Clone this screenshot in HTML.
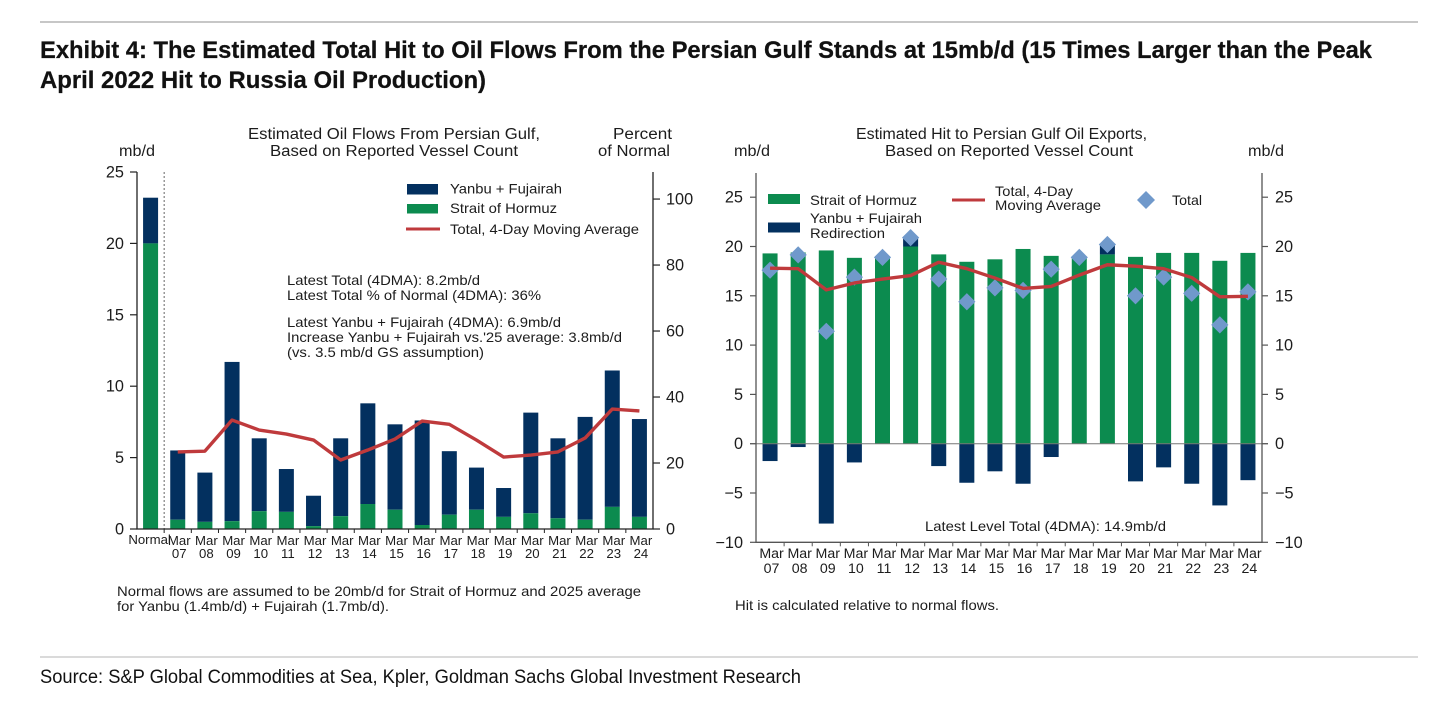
<!DOCTYPE html>
<html lang="en">
<head>
<meta charset="utf-8">
<title>Exhibit 4: Estimated Total Hit to Oil Flows From the Persian Gulf</title>
<style>
html,body{margin:0;padding:0;background:#fff;width:1456px;height:701px;overflow:hidden}
svg{display:block}
text{font-family:"Liberation Sans",Arial,sans-serif;fill:#1c1c1c}
.head{font-weight:700;fill:#111;font-size:24px;stroke:#111;stroke-width:0.25px}
.src{fill:#111;font-size:19px}
.t14{font-size:15.4px}
.t13{font-size:14px}
.tick{font-size:16.3px}
.xl{font-size:13.2px;text-anchor:middle}
.xr{font-size:14.2px;text-anchor:middle}
#charts{filter:blur(0.35px)}
</style>
</head>
<body>
<svg id="page" width="1456" height="701" viewBox="0 0 1456 701" xmlns="http://www.w3.org/2000/svg">
  <rect width="1456" height="701" fill="#fff"/>
  <rect x="40" y="21.5" width="1378" height="1" fill="#8f8f8f"/>
  <text class="head" x="40" y="58" textLength="1332" lengthAdjust="spacingAndGlyphs">Exhibit 4: The Estimated Total Hit to Oil Flows From the Persian Gulf Stands at 15mb/d (15 Times Larger than the Peak</text>
  <text class="head" x="40" y="88" textLength="446" lengthAdjust="spacingAndGlyphs">April 2022 Hit to Russia Oil Production)</text>

  <g id="charts">
    <g id="left-chart">
      <text class="t14" x="248" y="139" textLength="292" lengthAdjust="spacingAndGlyphs">Estimated Oil Flows From Persian Gulf,</text>
      <text class="t14" x="270" y="156" textLength="248" lengthAdjust="spacingAndGlyphs">Based on Reported Vessel Count</text>
      <text class="t14" x="119" y="156" textLength="36" lengthAdjust="spacingAndGlyphs">mb/d</text>
      <text class="t14" x="613" y="139" textLength="59" lengthAdjust="spacingAndGlyphs">Percent</text>
      <text class="t14" x="598" y="156" textLength="72" lengthAdjust="spacingAndGlyphs">of Normal</text>
    </g>
    <g id="right-chart">
      <text class="t14" x="856" y="139" textLength="291" lengthAdjust="spacingAndGlyphs">Estimated Hit to Persian Gulf Oil Exports,</text>
      <text class="t14" x="885" y="156" textLength="248" lengthAdjust="spacingAndGlyphs">Based on Reported Vessel Count</text>
      <text class="t14" x="734" y="156" textLength="36" lengthAdjust="spacingAndGlyphs">mb/d</text>
      <text class="t14" x="1248" y="156" textLength="36" lengthAdjust="spacingAndGlyphs">mb/d</text>
    </g>
    <g id="overlay">
      <rect x="407" y="184" width="31" height="10.5" fill="#03305F"/>
      <rect x="407" y="204" width="31" height="9.5" fill="#0C8B4F"/>
      <line x1="406" y1="229" x2="440" y2="229" stroke="#BF3A3C" stroke-width="3"/>
      <text class="t13" x="450" y="193.5" textLength="112" lengthAdjust="spacingAndGlyphs">Yanbu + Fujairah</text>
      <text class="t13" x="450" y="213" textLength="107" lengthAdjust="spacingAndGlyphs">Strait of Hormuz</text>
      <text class="t13" x="450" y="234" textLength="189" lengthAdjust="spacingAndGlyphs">Total, 4-Day Moving Average</text>

      <text class="t13" x="287" y="285" textLength="193" lengthAdjust="spacingAndGlyphs">Latest Total (4DMA): 8.2mb/d</text>
      <text class="t13" x="287" y="300" textLength="254" lengthAdjust="spacingAndGlyphs">Latest Total % of Normal (4DMA): 36%</text>
      <text class="t13" x="287" y="327" textLength="274" lengthAdjust="spacingAndGlyphs">Latest Yanbu + Fujairah (4DMA): 6.9mb/d</text>
      <text class="t13" x="287" y="342" textLength="335" lengthAdjust="spacingAndGlyphs">Increase Yanbu + Fujairah vs.'25 average: 3.8mb/d</text>
      <text class="t13" x="287" y="357" textLength="197" lengthAdjust="spacingAndGlyphs">(vs. 3.5 mb/d GS assumption)</text>
      <text class="t13" x="117" y="596" textLength="524" lengthAdjust="spacingAndGlyphs">Normal flows are assumed to be 20mb/d for Strait of Hormuz and 2025 average</text>
      <text class="t13" x="117" y="611" textLength="272" lengthAdjust="spacingAndGlyphs">for Yanbu (1.4mb/d) + Fujairah (1.7mb/d).</text>

      <rect x="768" y="194" width="32" height="10" fill="#0C8B4F"/>
      <rect x="768" y="222.5" width="32" height="10" fill="#03305F"/>
      <line x1="952" y1="200" x2="985" y2="200" stroke="#BF3A3C" stroke-width="3"/>
      <polygon points="1146,191 1155,200 1146,209 1137,200" fill="#7099CB"/>
      <text class="t13" x="810" y="205" textLength="107" lengthAdjust="spacingAndGlyphs">Strait of Hormuz</text>
      <text class="t13" x="810" y="223" textLength="112" lengthAdjust="spacingAndGlyphs">Yanbu + Fujairah</text>
      <text class="t13" x="810" y="238" textLength="75" lengthAdjust="spacingAndGlyphs">Redirection</text>
      <text class="t13" x="995" y="196" textLength="78" lengthAdjust="spacingAndGlyphs">Total, 4-Day</text>
      <text class="t13" x="995" y="210" textLength="106" lengthAdjust="spacingAndGlyphs">Moving Average</text>
      <text class="t13" x="1172" y="205" textLength="30" lengthAdjust="spacingAndGlyphs">Total</text>
      <text class="t13" x="925" y="531" textLength="241" lengthAdjust="spacingAndGlyphs">Latest Level Total (4DMA): 14.9mb/d</text>
      <text class="t13" x="735" y="610" textLength="264" lengthAdjust="spacingAndGlyphs">Hit is calculated relative to normal flows.</text>
    </g>
  </g>

  <rect x="40" y="656.5" width="1378" height="1" fill="#b5b5b5"/>
  <text class="src" x="40" y="683" textLength="761" lengthAdjust="spacingAndGlyphs">Source: S&amp;P Global Commodities at Sea, Kpler, Goldman Sachs Global Investment Research</text>
</svg>

<script>
// ---------- Left chart data (mb/d) ----------
const flowCategories = ['Normal','07','08','09','10','11','12','13','14','15','16','17','18','19','20','21','22','23','24'];
const flowHormuz = [20,0.65,0.5,0.55,1.25,1.2,0.2,0.9,1.75,1.35,0.28,1.0,1.35,0.85,1.1,0.75,0.65,1.55,0.85];
const flowTotal = [23.2,5.5,3.95,11.7,6.35,4.2,2.33,6.35,8.8,7.33,7.6,5.45,4.3,2.87,8.15,6.35,7.85,11.1,7.7];
const flowAverage = [null,5.4,5.45,7.63,6.93,6.65,6.23,4.83,5.53,6.3,7.56,7.33,6.23,5.04,5.18,5.4,6.37,8.4,8.27];
const flowLeftTicks = [0,5,10,15,20,25];
const flowRightTicks = [0,20,40,60,80,100];

// ---------- Right chart data (mb/d) ----------
const hitCategories = ['07','08','09','10','11','12','13','14','15','16','17','18','19','20','21','22','23','24'];
const hitHormuz = [19.3,19.4,19.6,18.85,19,20,19.2,18.45,18.7,19.75,19.05,19,19.2,18.95,19.35,19.35,18.55,19.35];
const hitRedirection = [-1.76,-0.34,-8.1,-1.9,0,0.8,-2.27,-3.96,-2.8,-4.06,-1.35,0,1.0,-3.82,-2.4,-4.06,-6.26,-3.7];
const hitTotal = [17.6,19.15,11.4,16.9,18.9,20.9,16.7,14.4,15.8,15.55,17.7,18.9,20.2,15,16.9,15.25,12.05,15.4];
const hitAverage = [17.8,17.75,15.6,16.3,16.7,17.05,18.4,17.75,16.8,15.75,15.95,17.1,18.15,18,17.75,16.85,14.9,14.95];
const hitTicks = [-10,-5,0,5,10,15,20,25];
const monthLabel = 'Mar';

const NS = 'http://www.w3.org/2000/svg';
const GREEN = '#0C8B4F', NAVY = '#03305F', RED = '#BF3A3C', DIAMOND = '#7099CB';

function make(tag, attrs, parent) {
  const el = document.createElementNS(NS, tag);
  for (const k in attrs) el.setAttribute(k, attrs[k]);
  parent.appendChild(el);
  return el;
}

// ---------- Left chart axes ----------
const L = { x0: 137, x1: 653, yTop: 172, yBase: 529, maxL: 25, maxR: 108.2 };
const leftBand = (L.x1 - L.x0) / flowCategories.length;
const lx = i => L.x0 + (i + 0.5) * leftBand;
const ly = v => L.yBase - v / L.maxL * (L.yBase - L.yTop);
const lyR = v => L.yBase - v / L.maxR * (L.yBase - L.yTop);

const leftG = document.getElementById('left-chart');
const BAR_W = 15;

flowCategories.forEach((cat, i) => {
  const top = make('rect', { x: lx(i) - BAR_W / 2, y: ly(flowTotal[i]), width: BAR_W, height: ly(flowHormuz[i]) - ly(flowTotal[i]), fill: NAVY }, leftG);
  
  
  const bottom = make('rect', { x: lx(i) - BAR_W / 2, y: ly(flowHormuz[i]), width: BAR_W, height: ly(0) - ly(flowHormuz[i]), fill: GREEN }, leftG);
  
  
});

const divider = make('line', { x1: L.x0 + leftBand, y1: L.yTop, x2: L.x0 + leftBand, y2: L.yBase, stroke: '#666', 'stroke-width': 1, 'stroke-dasharray': '2 2' }, leftG);



const flowPts = [];
flowAverage.forEach((v, i) => { if (v !== null) flowPts.push(lx(i) + ',' + ly(v)); });
const flowLine = make('polyline', { points: flowPts.join(' '), fill: 'none', stroke: RED, 'stroke-width': 3.4, 'stroke-linejoin': 'round' }, leftG);



const leftAxisPath = make('path', { d: 'M' + L.x0 + ' ' + L.yTop + 'V' + L.yBase + 'H' + L.x1 + 'V' + L.yTop, fill: 'none', stroke: '#222', 'stroke-width': 1.3 }, leftG);



flowLeftTicks.forEach(v => {
  const t = make('line', { x1: L.x0 - 7, y1: ly(v), x2: L.x0, y2: ly(v), stroke: '#222', 'stroke-width': 1.2 }, leftG);
  
  
  const lab = make('text', { class: 'tick', x: 124, y: ly(v) + 5.5, 'text-anchor': 'end' }, leftG);
  
  
  lab.textContent = v;
});
flowRightTicks.forEach(v => {
  const t = make('line', { x1: L.x1, y1: lyR(v), x2: L.x1 + 7, y2: lyR(v), stroke: '#222', 'stroke-width': 1.2 }, leftG);
  
  
  const lab = make('text', { class: 'tick', x: 666, y: lyR(v) + 5.5 }, leftG);
  
  
  lab.textContent = v;
});
flowCategories.forEach((cat, i) => {
  if (i > 0) {
    const t = make('line', { x1: L.x0 + i * leftBand, y1: L.yBase, x2: L.x0 + i * leftBand, y2: L.yBase + 4, stroke: '#222', 'stroke-width': 1 }, leftG);
    
    
  }
  if (i === 0) {
    const lab = make('text', { class: 'xl', x: lx(i) - 1, y: 544 }, leftG);
    
    
    lab.textContent = cat;
  } else {
    const m = make('text', { class: 'xl', x: lx(i) + 1.5, y: 545 }, leftG);
    
    
    m.textContent = monthLabel;
    const d = make('text', { class: 'xl', x: lx(i) + 1.5, y: 558 }, leftG);
    
    
    d.textContent = cat;
  }
});

// ---------- Right chart axes ----------
const R = { x0: 756, x1: 1262, yTop: 173, yZero: 443.7, yBase: 542.3, unit: 9.86 };
const rightBand = (R.x1 - R.x0) / hitCategories.length;
const rx = i => R.x0 + (i + 0.5) * rightBand;
const ry = v => R.yZero - v * R.unit;

const rightG = document.getElementById('right-chart');

hitCategories.forEach((cat, i) => {
  const g = make('rect', { x: rx(i) - BAR_W / 2, y: ry(hitHormuz[i]), width: BAR_W, height: ry(0) - ry(hitHormuz[i]), fill: GREEN }, rightG);
  
  
  const r = hitRedirection[i];
  if (r !== 0) {
    const base = r > 0 ? hitHormuz[i] : 0;
    const yA = Math.min(ry(base), ry(base + r));
    const yB = Math.max(ry(base), ry(base + r));
    const n = make('rect', { x: rx(i) - BAR_W / 2, y: yA, width: BAR_W, height: yB - yA, fill: NAVY }, rightG);
    
    
  }
});

const zeroLine = make('line', { x1: R.x0 - 6, y1: ry(0), x2: R.x1 + 6, y2: ry(0), stroke: '#777', 'stroke-width': 1 }, rightG);



const hitPts = hitAverage.map((v, i) => rx(i) + ',' + ry(v));
const hitLine = make('polyline', { points: hitPts.join(' '), fill: 'none', stroke: RED, 'stroke-width': 3.4, 'stroke-linejoin': 'round' }, rightG);

hitTotal.forEach((v, i) => {
  const s = 8.6;
  const d = make('polygon', { points: [rx(i) + ',' + (ry(v) - s), (rx(i) + s) + ',' + ry(v), rx(i) + ',' + (ry(v) + s), (rx(i) - s) + ',' + ry(v)].join(' '), fill: DIAMOND }, rightG);
  
  
});


rightG.appendChild(hitLine);

const rightAxisPath = make('path', { d: 'M' + R.x0 + ' ' + R.yTop + 'V' + R.yBase + 'H' + R.x1 + 'V' + R.yTop, fill: 'none', stroke: '#555', 'stroke-width': 1.3 }, rightG);



hitTicks.forEach(v => {
  const label = v < 0 ? '\u2212' + Math.abs(v) : String(v);
  const t1 = make('line', { x1: R.x0 - 6, y1: ry(v), x2: R.x0, y2: ry(v), stroke: '#555', 'stroke-width': 1.2 }, rightG);
  
  
  const t2 = make('line', { x1: R.x1, y1: ry(v), x2: R.x1 + 6, y2: ry(v), stroke: '#555', 'stroke-width': 1.2 }, rightG);
  
  
  const a = make('text', { class: 'tick', x: 743, y: ry(v) + 5.5, 'text-anchor': 'end' }, rightG);
  
  
  a.textContent = label;
  const b = make('text', { class: 'tick', x: 1275, y: ry(v) + 5.5 }, rightG);
  
  
  b.textContent = label;
});
hitCategories.forEach((cat, i) => {
  if (i > 0) {
    const t = make('line', { x1: R.x0 + i * rightBand, y1: R.yBase, x2: R.x0 + i * rightBand, y2: R.yBase + 4, stroke: '#555', 'stroke-width': 1 }, rightG);
    
    
  }
  const m = make('text', { class: 'xr', x: rx(i) + 1.5, y: 558 }, rightG);
  
  
  m.textContent = monthLabel;
  const d = make('text', { class: 'xr', x: rx(i) + 1.5, y: 573 }, rightG);
  
  
  d.textContent = cat;
});
</script>
</body>
</html>
